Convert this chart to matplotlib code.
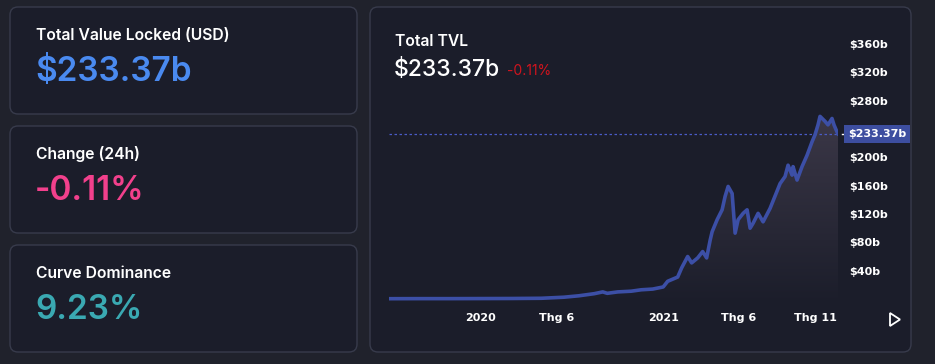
import numpy as np
import pandas as pd
import matplotlib
matplotlib.use("Agg")
import matplotlib.pyplot as plt
import matplotlib.dates as mdates
import matplotlib.transforms as mtransforms
from matplotlib.patches import FancyBboxPatch, Polygon

# data (TVL in $b)
dates = ["2019-07-01", "2019-09-01", "2019-11-01", "2020-01-01", "2020-03-01",
         "2020-05-01", "2020-06-15", "2020-07-15", "2020-08-15", "2020-09-01",
         "2020-09-10", "2020-10-01", "2020-10-28", "2020-11-17", "2020-12-10",
         "2020-12-31", "2021-01-09", "2021-01-29", "2021-02-06", "2021-02-18",
         "2021-02-26", "2021-03-10", "2021-03-20", "2021-03-28", "2021-04-04",
         "2021-04-08", "2021-04-18", "2021-04-28", "2021-05-04", "2021-05-10",
         "2021-05-18", "2021-05-24", "2021-05-30", "2021-06-09", "2021-06-17",
         "2021-06-23", "2021-06-29", "2021-07-09", "2021-07-19", "2021-08-02",
         "2021-08-06", "2021-08-22", "2021-09-01", "2021-09-07", "2021-09-15",
         "2021-09-17", "2021-09-25", "2021-10-05", "2021-10-15", "2021-10-25",
         "2021-10-31", "2021-11-06", "2021-11-10", "2021-11-20", "2021-11-26",
         "2021-12-04", "2021-12-08", "2021-12-14", "2021-12-16"]
tvl = [0.4, 0.5, 0.5, 0.6, 0.7,
       1.0, 2.5, 4.5, 7.5, 10,
       8, 10, 11, 13, 14,
       17, 25, 31, 44, 60,
       51, 58, 67, 58, 83,
       95, 112, 126, 145, 159,
       149, 93, 112, 121, 126,
       100, 107, 121, 109, 128,
       135, 163, 173, 189, 175,
       187, 168, 187, 203, 222,
       232, 246, 258, 251, 246,
       255, 246, 236, 233.37]

tick_dates = ["2020-01-01", "2020-06-01", "2021-01-01", "2021-06-01", "2021-11-01"]
tick_labels = ["2020", "Thg 6", "2021", "Thg 6", "Thg 11"]
y_ticks = [40, 80, 120, 160, 200, 280, 320, 360]

cards = [("Total Value Locked (USD)", "$233.37b", "#4a8af0"),
         ("Change (24h)", "-0.11%", "#f2408c"),
         ("Curve Dominance", "9.23%", "#3aa9b2")]

last_value = 233.37
last_label = "$233.37b"
change_label = "-0.11%"

W, H = 935, 364
plt.rcParams['font.family'] = ['Inter', 'DejaVu Sans']

fig = plt.figure(figsize=(W / 100, H / 100), dpi=100)
fig.patch.set_facecolor("#20222c")

# background / cards layer in pixel coords
bg = fig.add_axes([0, 0, 1, 1])
bg.set_xlim(0, W)
bg.set_ylim(H, 0)
bg.axis("off")

card_bg = "#1b1d2a"
border = "#383b4c"
card_y = [7, 126, 245]
for (title, value, color), y0 in zip(cards, card_y):
    bg.add_patch(FancyBboxPatch((10, y0), 347, 107, boxstyle="round,pad=0,rounding_size=8",
                                fc=card_bg, ec=border, lw=1))
    bg.text(36, y0 + 28, title, color="white", fontsize=11.3, fontweight="semibold", va="center")
    bg.text(35, y0 + 65, value, color=color, fontsize=24, fontweight="semibold", va="center")

bg.add_patch(FancyBboxPatch((370, 7), 541, 345, boxstyle="round,pad=0,rounding_size=8",
                            fc=card_bg, ec=border, lw=1))
bg.text(395, 42, "Total TVL", color="white", fontsize=11.3, fontweight="semibold", va="center")
bg.text(394, 70, last_label, color="white", fontsize=16.5, fontweight="medium", va="center")
bg.text(507, 71, change_label, color="#d0141e", fontsize=10, va="center")

# play icon
bg.add_patch(Polygon([[890, 313], [890, 326], [900, 319.5]], closed=True,
                     fc="none", ec="white", lw=1.3))

# chart
x = mdates.date2num(pd.to_datetime(dates))
y = np.array(tvl)
ymin, ymax = -8.5, 380

ax = fig.add_axes([389 / W, (H - 305) / H, 449 / W, 275 / H])
ax.set_facecolor("none")
ax.set_xlim(x[0], x[-1])
ax.set_ylim(ymin, ymax)

# gradient fill under the line
grad = np.linspace(0, 1, 256).reshape(-1, 1)
rgba = np.zeros((256, 1, 4))
rgba[..., 0] = 0.24
rgba[..., 1] = 0.225
rgba[..., 2] = 0.29
rgba[..., 3] = grad[::-1] * 0.95
top = y.max()
im = ax.imshow(rgba, extent=[x[0], x[-1], ymin, top], origin="upper",
               aspect="auto", zorder=1)
clip = Polygon(np.vstack([np.column_stack([x, y]), [[x[-1], ymin], [x[0], ymin]]]),
               closed=True, transform=ax.transData)
im.set_clip_path(clip)

ax.plot(x, y, color="#3c4fa6", lw=2.6, zorder=3, solid_joinstyle="round")
ax.axhline(last_value, color="#4a5cc8", lw=0.9, ls=(0, (2, 2)), zorder=2)

ax.set_xticks(mdates.date2num(pd.to_datetime(tick_dates)))
ax.set_xticklabels(tick_labels)
ax.yaxis.tick_right()
ax.set_yticks(y_ticks)
ax.set_yticklabels([f"${v}b" for v in y_ticks])
ax.tick_params(axis="both", length=0, colors="white", labelsize=8)
ax.tick_params(axis="y", pad=8)
ax.tick_params(axis="x", pad=6)
for lab in ax.get_xticklabels() + ax.get_yticklabels():
    lab.set_fontweight("bold")
    lab.set_family(["DejaVu Sans"])
for s in ax.spines.values():
    s.set_visible(False)

trans = mtransforms.blended_transform_factory(ax.transAxes, ax.transData)
ax.annotate(last_label, xy=(1, last_value), xycoords=trans, xytext=(10, 0),
            textcoords="offset pixels", va="center", ha="left", color="white",
            fontsize=8, fontweight="bold", family=["DejaVu Sans"],
            bbox=dict(boxstyle="square,pad=0.35", fc="#3d4ea0", ec="none"),
            annotation_clip=False)
ax.plot([1.008, 1.016], [last_value, last_value], transform=trans, color="white",
        lw=1, clip_on=False)

fig.savefig("out.png", dpi=100, facecolor=fig.get_facecolor())
